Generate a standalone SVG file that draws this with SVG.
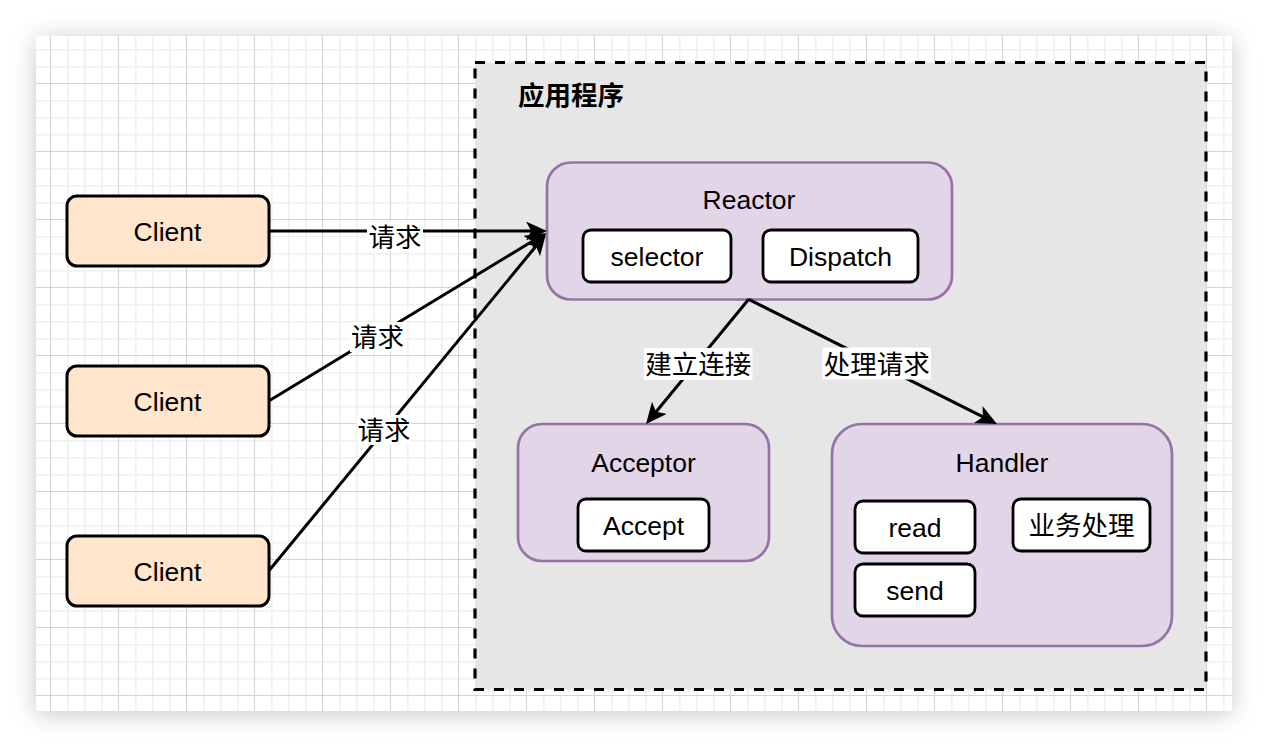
<svg xmlns="http://www.w3.org/2000/svg" width="1268" height="748" viewBox="0 0 1268 748">
<defs>
<style>
.t{font-family:"Liberation Sans","Noto Sans CJK SC",sans-serif;font-size:26.5px;fill:#000;text-anchor:middle}
.cjk{font-family:"Noto Sans CJK SC",sans-serif;font-size:26.5px;fill:#000;text-anchor:middle}
.client{fill:#ffe6cc;stroke:#000;stroke-width:3}
.group{fill:#e1d5e7;stroke:#9673a6;stroke-width:2.7}
.inner{fill:#fff;stroke:#000;stroke-width:2.8}
.edge{fill:none;stroke:#000;stroke-width:3}
.lbl{fill:#fff}
</style>
<pattern id="grid" patternUnits="userSpaceOnUse" x="50" y="15" width="68" height="68">
<rect x="17" y="0" width="1.6" height="68" fill="#f1f1f1"/>
<rect x="34" y="0" width="1.6" height="68" fill="#f1f1f1"/>
<rect x="51" y="0" width="1.6" height="68" fill="#f1f1f1"/>
<rect x="0" y="17" width="68" height="1.6" fill="#f1f1f1"/>
<rect x="0" y="34" width="68" height="1.6" fill="#f1f1f1"/>
<rect x="0" y="51" width="68" height="1.6" fill="#f1f1f1"/>
<rect x="0" y="0" width="1" height="68" fill="#d4d4d4"/>
<rect x="0" y="0" width="68" height="1" fill="#d4d4d4"/>
</pattern>
<filter id="shadow" x="-10%" y="-10%" width="120%" height="125%">
<feDropShadow dx="0" dy="3" stdDeviation="12" flood-color="#000" flood-opacity="0.22"/>
</filter>
<marker id="arrow" markerUnits="userSpaceOnUse" viewBox="0 0 21 19" markerWidth="21" markerHeight="19" refX="7" refY="9.5" orient="auto">
<path d="M0,0 L21,9.5 L0,19 L5.25,9.5 Z" fill="#000"/>
</marker>
</defs>
<rect x="0" y="0" width="1268" height="748" fill="#fff"/>
<rect x="36" y="36" width="1196" height="675" rx="4" fill="#fff" filter="url(#shadow)"/>
<rect x="36" y="36" width="1196" height="675" rx="4" fill="url(#grid)"/>

<g id="container">
<rect x="475" y="62.5" width="731" height="627" fill="#e6e6e6" stroke="#000" stroke-width="3.2" stroke-dasharray="10 10"/>
<text x="518" y="105" style="font-family:'Noto Sans CJK SC',sans-serif;font-size:26.5px;font-weight:bold">应用程序</text>
</g>

<g id="client1">
<rect class="client" x="67" y="196" width="202" height="70" rx="10"/>
<text class="t" x="167.5" y="240.5">Client</text>
</g>
<g id="client2">
<rect class="client" x="67" y="366" width="202" height="70" rx="10"/>
<text class="t" x="167.5" y="410.5">Client</text>
</g>
<g id="client3">
<rect class="client" x="67" y="536" width="202" height="70" rx="10"/>
<text class="t" x="167.5" y="580.5">Client</text>
</g>

<g id="reactor">
<rect class="group" x="547" y="162.5" width="405" height="137" rx="24"/>
<text class="t" x="749" y="209">Reactor</text>
<rect class="inner" x="583" y="230" width="148" height="52" rx="8"/>
<text class="t" x="657" y="266">selector</text>
<rect class="inner" x="763" y="230" width="155" height="52" rx="8"/>
<text class="t" x="840.5" y="266">Dispatch</text>
</g>

<g id="acceptor">
<rect class="group" x="518" y="424" width="251" height="137" rx="24"/>
<text class="t" x="643.5" y="471.5">Acceptor</text>
<rect class="inner" x="578" y="499" width="131" height="52" rx="8"/>
<text class="t" x="643.5" y="535">Accept</text>
</g>

<g id="handler">
<rect class="group" x="832" y="424" width="340" height="222" rx="30"/>
<text class="t" x="1002" y="471.5">Handler</text>
<rect class="inner" x="855" y="501" width="120" height="52" rx="8"/>
<text class="t" x="915" y="537">read</text>
<rect class="inner" x="855" y="564" width="120" height="52" rx="8"/>
<text class="t" x="915" y="600">send</text>
<rect class="inner" x="1013" y="499" width="137" height="52" rx="8"/>
<text class="cjk" x="1081.5" y="535">业务处理</text>
</g>

<g id="connectors">
<line class="edge" x1="268.7" y1="231" x2="533" y2="231" marker-end="url(#arrow)"/>
<line class="edge" x1="268.7" y1="401" x2="534" y2="240.3" marker-end="url(#arrow)"/>
<line class="edge" x1="268.7" y1="571" x2="537.1" y2="244.8" marker-end="url(#arrow)"/>
<line class="edge" x1="748.7" y1="299.3" x2="654.9" y2="413.2" marker-end="url(#arrow)"/>
<line class="edge" x1="748.7" y1="299.3" x2="984.5" y2="417.7" marker-end="url(#arrow)"/>
<rect class="lbl" x="367" y="221" width="56" height="30"/>
<text class="cjk" x="395" y="246.5">请求</text>
<rect class="lbl" x="350" y="322" width="55" height="30"/>
<text class="cjk" x="377.5" y="346.5">请求</text>
<rect class="lbl" x="357" y="415" width="54" height="30"/>
<text class="cjk" x="384" y="440">请求</text>
<rect class="lbl" x="644" y="348" width="108.5" height="32"/>
<text class="cjk" x="698.2" y="374">建立连接</text>
<rect class="lbl" x="822.5" y="347.5" width="108.5" height="32"/>
<text class="cjk" x="876.7" y="373.5">处理请求</text>
</g>
</svg>
